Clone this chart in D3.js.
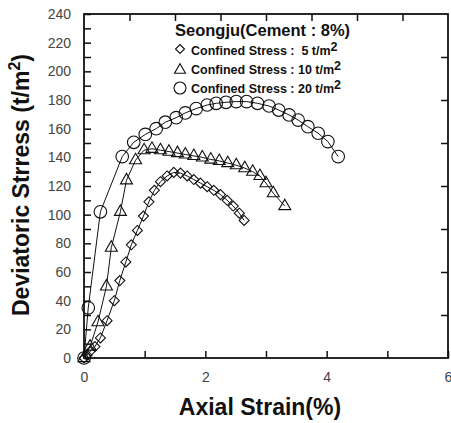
<!DOCTYPE html>
<html>
<head>
<meta charset="utf-8">
<script src="https://cdn.jsdelivr.net/npm/d3@7"></script>
<style>
  html, body { margin: 0; padding: 0; background: #fff; }
  svg { display: block; }
  text { font-family: "Liberation Sans", Arial, Helvetica, sans-serif; }
</style>
</head>
<body>
<svg id="chart" width="451" height="423"></svg>
<script>
// Stress–strain curves, Seongju soil with 8% cement
const strain5  = [0, 0.05, 0.11, 0.18, 0.27, 0.38, 0.50, 0.59, 0.69, 0.78, 0.88, 0.98, 1.07, 1.16, 1.26, 1.37, 1.48, 1.59, 1.70, 1.81, 1.92, 2.03, 2.14, 2.25, 2.36, 2.46, 2.56, 2.64];
const stress5  = [0, 2, 5, 8, 14, 26, 40, 54, 67, 79, 89, 99, 109, 117, 123, 127, 129.5, 129, 127, 124.5, 122, 119.5, 117, 114, 110, 106, 101, 96];

const strain10 = [0, 0.10, 0.23, 0.37, 0.45, 0.60, 0.70, 0.85, 0.99, 1.12, 1.26, 1.40, 1.54, 1.67, 1.81, 1.95, 2.09, 2.23, 2.37, 2.51, 2.65, 2.78, 2.90, 3.00, 3.12, 3.31];
const stress10 = [0, 8, 25, 50, 77, 102, 124, 138, 145, 146, 145, 144, 143, 142, 141, 140, 138.5, 137.5, 136, 134.5, 132.5, 130, 127, 122, 115, 106];

const strain20 = [0, 0.07, 0.27, 0.63, 0.82, 1.01, 1.19, 1.34, 1.52, 1.67, 1.85, 2.03, 2.18, 2.34, 2.51, 2.68, 2.86, 3.05, 3.21, 3.38, 3.53, 3.69, 3.86, 4.02, 4.19];
const stress20 = [0, 35, 102, 140.5, 150.5, 156, 160, 164.5, 167.7, 171, 174, 176.5, 177.7, 178.4, 178.9, 178.9, 177.7, 175.8, 173, 169.6, 166, 161.4, 156.8, 151, 140.5];

const xTickLabels = [0, 2, 4, 6];
const xMinorTicks = [1, 3, 5];
const yTickLabels = [0, 20, 40, 60, 80, 100, 120, 140, 160, 180, 200, 220, 240];
const yMinorTicks = [10, 30, 50, 70, 90, 110, 130, 150, 170, 190, 210, 230];
const topTicks = [0.75, 1.5, 2.25, 3, 3.75, 4.5, 5.25];
const rightTicks = [30, 60, 90, 120, 150, 180, 210];

const legendTitle = "Seongju(Cement : 8%)";
const legendLabels = ["Confined Stress :  5 t/m", "Confined Stress : 10 t/m", "Confined Stress : 20 t/m"];

const svg = d3.select("#chart");
const plotLeft = 84, plotTop = 14, plotRight = 448, plotBottom = 358;

const x = d3.scaleLinear().domain([0, 6]).range([plotLeft, plotRight]);
const y = d3.scaleLinear().domain([0, 240]).range([plotBottom, plotTop]);

// marker shapes
const shapes = {
  diamond: s => `M0,${-s}L${s},0L0,${s}L${-s},0Z`,
  triangle: s => `M0,${-s * 1.15}L${s},${s * 0.6}L${-s},${s * 0.6}Z`,
  circle: s => `M${s},0A${s},${s} 0 1,1 ${-s},0A${s},${s} 0 1,1 ${s},0Z`
};

const series = [
  { xs: strain5,  ys: stress5,  shape: "diamond",  size: 5 },
  { xs: strain10, ys: stress10, shape: "triangle", size: 6 },
  { xs: strain20, ys: stress20, shape: "circle",   size: 6.3 }
];

const line = d3.line().x(d => x(d[0])).y(d => y(d[1]));

series.forEach(s => {
  const pts = s.xs.map((v, i) => [v, s.ys[i]]);
  svg.append("path")
    .attr("d", line(pts))
    .attr("fill", "none")
    .attr("stroke", "#111")
    .attr("stroke-width", 1);
  svg.append("g").selectAll("path")
    .data(pts)
    .join("path")
    .attr("transform", d => `translate(${x(d[0])},${y(d[1])})`)
    .attr("d", shapes[s.shape](s.size))
    .attr("fill", "none")
    .attr("stroke", "#111")
    .attr("stroke-width", 1.1);
});

// frame
svg.append("rect")
  .attr("x", plotLeft).attr("y", plotTop)
  .attr("width", plotRight - plotLeft).attr("height", plotBottom - plotTop)
  .attr("fill", "none").attr("stroke", "#111").attr("stroke-width", 1.8);

// bottom axis: inward ticks
const xAxis = d3.axisBottom(x).tickValues(xTickLabels).tickSizeInner(-7).tickSizeOuter(0).tickPadding(14).tickFormat(d3.format("d"));
const gx = svg.append("g").attr("transform", `translate(0,${plotBottom})`).call(xAxis);
gx.select(".domain").remove();
gx.selectAll(".tick line").attr("stroke", "#111").attr("stroke-width", 1.5);
gx.selectAll(".tick text").attr("font-size", 14).attr("fill", "#444");
const gxm = svg.append("g").attr("transform", `translate(0,${plotBottom})`)
  .call(d3.axisBottom(x).tickValues(xMinorTicks).tickSizeInner(-7).tickSizeOuter(0).tickFormat(""));
gxm.select(".domain").remove();
gxm.selectAll(".tick line").attr("stroke", "#111").attr("stroke-width", 1.5);

// left axis
const yAxis = d3.axisLeft(y).tickValues(yTickLabels).tickSizeInner(-7).tickSizeOuter(0).tickPadding(13).tickFormat(d3.format("d"));
const gy = svg.append("g").attr("transform", `translate(${plotLeft},0)`).call(yAxis);
gy.select(".domain").remove();
gy.selectAll(".tick line").attr("stroke", "#111").attr("stroke-width", 1.5);
gy.selectAll(".tick text").attr("font-size", 14).attr("fill", "#444");
const gym = svg.append("g").attr("transform", `translate(${plotLeft},0)`)
  .call(d3.axisLeft(y).tickValues(yMinorTicks).tickSizeInner(-7).tickSizeOuter(0).tickFormat(""));
gym.select(".domain").remove();
gym.selectAll(".tick line").attr("stroke", "#111").attr("stroke-width", 1.5);

// top and right axes: inward ticks, no labels
const gt = svg.append("g").attr("transform", `translate(0,${plotTop})`)
  .call(d3.axisTop(x).tickValues(topTicks).tickSizeInner(-7).tickSizeOuter(0).tickFormat(""));
gt.select(".domain").remove();
gt.selectAll(".tick line").attr("stroke", "#111").attr("stroke-width", 1.5);
const gr = svg.append("g").attr("transform", `translate(${plotRight},0)`)
  .call(d3.axisRight(y).tickValues(rightTicks).tickSizeInner(-7).tickSizeOuter(0).tickFormat(""));
gr.select(".domain").remove();
gr.selectAll(".tick line").attr("stroke", "#111").attr("stroke-width", 1.5);

// axis titles
svg.append("text")
  .attr("x", 260).attr("y", 415)
  .attr("text-anchor", "middle")
  .attr("font-size", 23).attr("font-weight", "bold").attr("fill", "#111")
  .text("Axial Strain(%)");

const yt = svg.append("text")
  .attr("transform", "translate(29,185) rotate(-90)")
  .attr("text-anchor", "middle")
  .attr("font-size", 23).attr("font-weight", "bold").attr("fill", "#111");
yt.append("tspan").text("Deviatoric Strress (t/m");
yt.append("tspan").attr("font-size", 16).attr("dy", -9).text("2");
yt.append("tspan").attr("dy", 9).text(")");

// legend
svg.append("text")
  .attr("x", 175).attr("y", 36)
  .attr("font-size", 16.5).attr("font-weight", "bold").attr("fill", "#111")
  .text(legendTitle);

const legendRows = [
  { shape: "diamond", size: 4.5, my: 49, ty: 55 },
  { shape: "triangle", size: 5.5, my: 70, ty: 74 },
  { shape: "circle", size: 6, my: 88, ty: 93 }
];
legendRows.forEach((r, i) => {
  svg.append("path")
    .attr("transform", `translate(180,${r.my})`)
    .attr("d", shapes[r.shape](r.size))
    .attr("fill", "none").attr("stroke", "#111").attr("stroke-width", 1.1);
  const t = svg.append("text")
    .attr("x", 191).attr("y", r.ty)
    .attr("font-size", 12.5).attr("font-weight", "bold").attr("fill", "#111")
    .style("white-space", "pre");
  t.append("tspan").text(legendLabels[i]);
  t.append("tspan").attr("font-size", 12.5).attr("dy", -4).text("2");
});
</script>
</body>
</html>
